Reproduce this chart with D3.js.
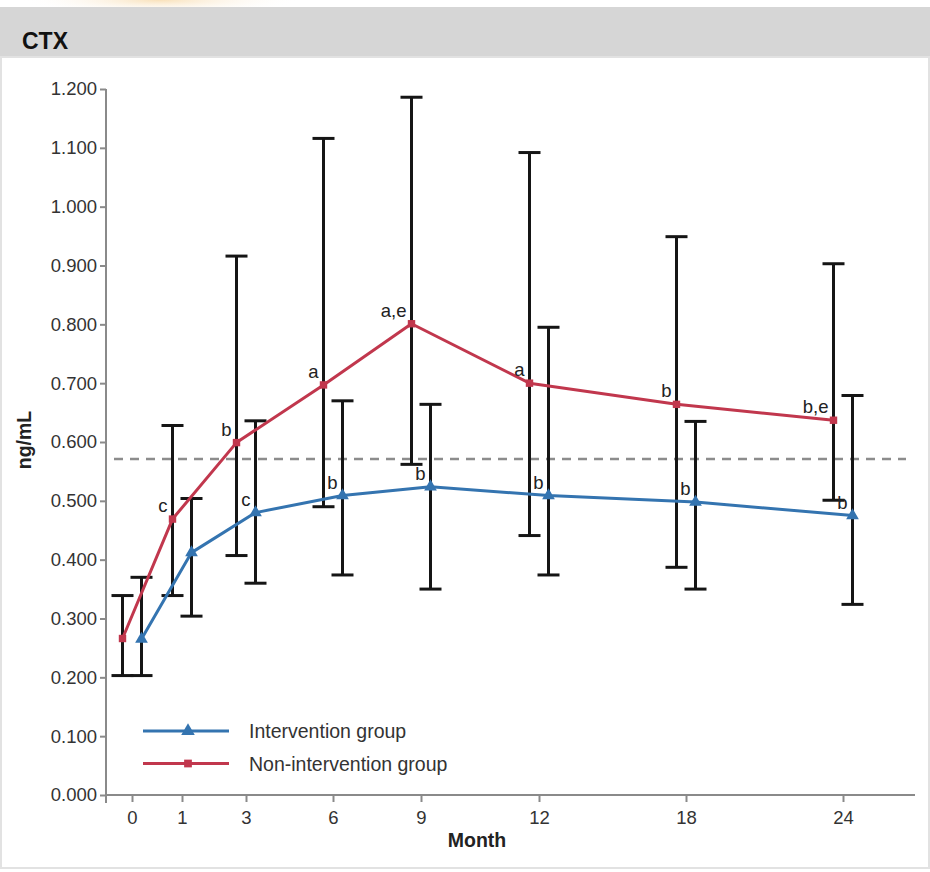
<!DOCTYPE html>
<html>
<head>
<meta charset="utf-8">
<script src="https://cdn.jsdelivr.net/npm/d3@7"></script>
<style>
  body { margin: 0; background: #fff; }
  svg text { font-family: "Liberation Sans", Arial, sans-serif; }
</style>
</head>
<body>
<svg id="chart" width="930" height="872"></svg>
<script>
// Months on the x axis
const months = [0, 1, 3, 6, 9, 12, 18, 24];

// Intervention group (blue): mean and error bar ends
const interMean = [0.265, 0.412, 0.480, 0.509, 0.524, 0.509, 0.498, 0.475];
const interHigh = [0.370, 0.504, 0.636, 0.670, 0.664, 0.795, 0.635, 0.679];
const interLow  = [0.203, 0.304, 0.360, 0.374, 0.350, 0.374, 0.350, 0.324];
const interNote = ["", "", "c", "b", "b", "b", "b", "b"];

// Non-intervention group (red)
const nonMean = [0.266, 0.469, 0.599, 0.697, 0.801, 0.700, 0.664, 0.637];
const nonHigh = [0.339, 0.628, 0.916, 1.116, 1.186, 1.092, 0.949, 0.903];
const nonLow  = [0.203, 0.339, 0.407, 0.490, 0.562, 0.441, 0.387, 0.501];
const nonNote = ["", "c", "b", "a", "a,e", "a", "b", "b,e"];

// Reference level (dashed line)
const refLevel = 0.571;

const yTicks = [0, 0.1, 0.2, 0.3, 0.4, 0.5, 0.6, 0.7, 0.8, 0.9, 1.0, 1.1, 1.2];

const blue = "#3474b0";
const red = "#c1374d";

const svg = d3.select("#chart");

// header band and panel
svg.append("rect").attr("x", 0).attr("y", 0).attr("width", 930).attr("height", 872).attr("fill", "#fff");
const glow = svg.append("defs").append("radialGradient").attr("id", "glow");
glow.append("stop").attr("offset", "0%").attr("stop-color", "#f7d9a8").attr("stop-opacity", 0.8);
glow.append("stop").attr("offset", "100%").attr("stop-color", "#fff").attr("stop-opacity", 0);
svg.append("ellipse").attr("cx", 160).attr("cy", 0).attr("rx", 140).attr("ry", 14).attr("fill", "url(#glow)");
svg.append("rect").attr("x", 0).attr("y", 7).attr("width", 930).attr("height", 50).attr("fill", "#d6d6d6");
svg.append("rect").attr("x", 1).attr("y", 57).attr("width", 928).attr("height", 811)
    .attr("fill", "#fff").attr("stroke", "#e2e2e2").attr("stroke-width", 2);
svg.append("text").attr("x", 22).attr("y", 49).attr("font-size", 23).attr("font-weight", "bold")
    .attr("fill", "#111").text("CTX");

// scales: the month axis is not evenly spaced, so use a piecewise linear scale
const x = d3.scaleLinear().domain(months).range([132, 182, 246, 333, 421, 539, 686, 843]);
const y = d3.scaleLinear().domain([0, 1.2]).range([795, 89]);
const shift = 9.5;

// axes
const axisColor = "#8a8a8a";
const yAxis = svg.append("g").attr("transform", "translate(106,0)")
    .call(d3.axisLeft(y).tickValues(yTicks).tickFormat(d3.format(".3f")).tickSize(6).tickSizeOuter(0));
yAxis.select(".domain").attr("d", "M0,89V803");
const xAxis = svg.append("g").attr("transform", "translate(0,795)")
    .call(d3.axisBottom(x).tickValues(months).tickFormat(d3.format("d")).tickSize(7).tickSizeOuter(0));
xAxis.select(".domain").attr("d", "M106,0H915");
[yAxis, xAxis].forEach(g => {
    g.selectAll(".domain, line").attr("stroke", axisColor).attr("stroke-width", 2);
    g.selectAll("text").attr("font-size", 18.5).attr("fill", "#333")
        .attr("font-family", "Liberation Sans, Arial, sans-serif");
});
yAxis.selectAll("text").attr("x", -9);
xAxis.selectAll("text").attr("y", 16);

svg.append("text").attr("x", 477).attr("y", 847).attr("text-anchor", "middle")
    .attr("font-size", 19.5).attr("font-weight", "bold").attr("fill", "#222").text("Month");
svg.append("text").attr("transform", "translate(31,440) rotate(-90)").attr("text-anchor", "middle")
    .attr("font-size", 19.5).attr("font-weight", "bold").attr("fill", "#222").text("ng/mL");

// dashed reference line
svg.append("line").attr("x1", 114).attr("x2", 906).attr("y1", y(refLevel)).attr("y2", y(refLevel))
    .attr("stroke", "#8c8c8c").attr("stroke-width", 2.5).attr("stroke-dasharray", "9,7");

const groups = [
    { mean: nonMean, high: nonHigh, low: nonLow, note: nonNote, color: red, dx: -shift, marker: "square" },
    { mean: interMean, high: interHigh, low: interLow, note: interNote, color: blue, dx: shift, marker: "triangle" }
];

// error bars first, then lines on top
groups.forEach(gr => {
    const rows = months.map((m, i) => ({ m, hi: gr.high[i], lo: gr.low[i] }));
    const eb = svg.append("g").attr("stroke", "#151515").attr("stroke-width", 3);
    eb.selectAll("line.v").data(rows).join("line").attr("class", "v")
        .attr("x1", d => x(d.m) + gr.dx).attr("x2", d => x(d.m) + gr.dx)
        .attr("y1", d => y(d.hi)).attr("y2", d => y(d.lo));
    eb.selectAll("line.hi").data(rows).join("line").attr("class", "hi")
        .attr("x1", d => x(d.m) + gr.dx - 11).attr("x2", d => x(d.m) + gr.dx + 11)
        .attr("y1", d => y(d.hi)).attr("y2", d => y(d.hi));
    eb.selectAll("line.lo").data(rows).join("line").attr("class", "lo")
        .attr("x1", d => x(d.m) + gr.dx - 11).attr("x2", d => x(d.m) + gr.dx + 11)
        .attr("y1", d => y(d.lo)).attr("y2", d => y(d.lo));
});

groups.forEach(gr => {
    const pts = months.map((m, i) => ({ m, v: gr.mean[i], note: gr.note[i] }));
    const line = d3.line().x(d => x(d.m) + gr.dx).y(d => y(d.v));
    svg.append("path").datum(pts).attr("fill", "none").attr("stroke", gr.color)
        .attr("stroke-width", 3).attr("stroke-linejoin", "round").attr("d", line);
    const sym = gr.marker === "square" ? d3.symbolSquare : d3.symbolTriangle;
    const size = gr.marker === "square" ? 55 : 70;
    svg.append("g").selectAll("path").data(pts).join("path")
        .attr("transform", d => `translate(${x(d.m) + gr.dx},${y(d.v)})`)
        .attr("d", d3.symbol().type(sym).size(size)).attr("fill", gr.color);
    svg.append("g").selectAll("text").data(pts.filter(d => d.note)).join("text")
        .attr("x", d => x(d.m) + gr.dx - 5).attr("y", d => y(d.v) - 7)
        .attr("text-anchor", "end").attr("font-size", 18.5).attr("fill", "#222").text(d => d.note);
});

// legend
const legendItems = [
    { label: "Intervention group", color: blue, marker: d3.symbolTriangle, size: 80 },
    { label: "Non-intervention group", color: red, marker: d3.symbolSquare, size: 60 }
];
const legend = svg.append("g").attr("transform", "translate(143,731)");
legendItems.forEach((item, i) => {
    const g = legend.append("g").attr("transform", `translate(0,${i * 32.5})`);
    g.append("line").attr("x1", 0).attr("x2", 86).attr("stroke", item.color).attr("stroke-width", 3);
    g.append("path").attr("transform", "translate(45,0)")
        .attr("d", d3.symbol().type(item.marker).size(item.size)).attr("fill", item.color);
    g.append("text").attr("x", 106).attr("y", 7).attr("font-size", 19.5).attr("fill", "#333").text(item.label);
});
</script>
</body>
</html>
